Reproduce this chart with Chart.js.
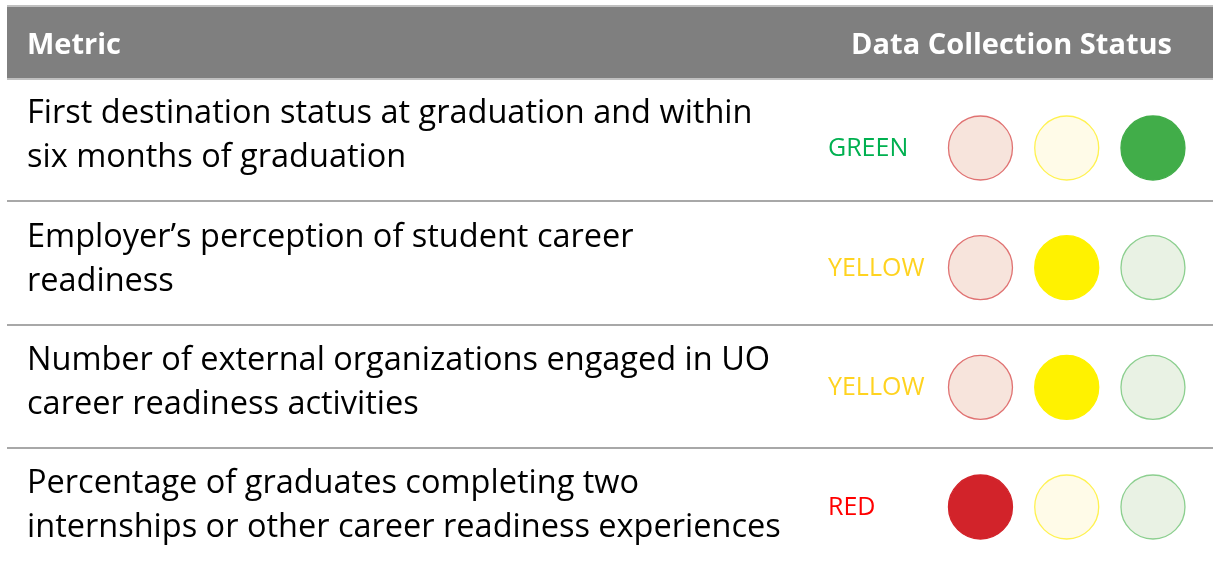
<!DOCTYPE html>
<html>
<head>
<meta charset="utf-8">
<script src="https://cdn.jsdelivr.net/npm/chart.js@4/dist/chart.umd.min.js"></script>
<style>
html,body{margin:0;padding:0;background:#fff;}
#wrap{width:1213px;height:568px;position:relative;}
</style>
</head>
<body>
<div id="wrap"><canvas id="c"></canvas></div>
<script>
// ---- data ----
const headerLeft = "Metric";
const headerRight = "Data Collection Status";
const metrics = [
  ["First destination status at graduation and within", "six months of graduation"],
  ["Employer\u2019s perception of student career", "readiness"],
  ["Number of external organizations engaged in UO", "career readiness activities"],
  ["Percentage of graduates completing two", "internships or other career readiness experiences"]
];
const statuses = ["GREEN", "YELLOW", "YELLOW", "RED"];
const lights = ["RED", "YELLOW", "GREEN"];

// ---- styles ----
const FONT = "'Open Sans', Lato, sans-serif";
const fullColor = {RED: "#d2232a", YELLOW: "#fff200", GREEN: "#41ad49"};
const faintFill = {RED: "#f7e4dc", YELLOW: "#fffbe8", GREEN: "#e9f2e4"};
const faintStroke = {RED: "#e07272", YELLOW: "#fff250", GREEN: "#8ccf8f"};
const labelColor = {RED: "#ff0000", YELLOW: "#ffd320", GREEN: "#00b050"};
const textTops = [114, 238, 361, 484];
const lineGap = 44;

const datasets = lights.map((light, li) => ({
  label: light,
  data: metrics.map((m, row) => ({x: li, y: row})),
  pointRadius: 32,
  pointHoverRadius: 32,
  pointBackgroundColor: statuses.map(s => s === light ? fullColor[light] : faintFill[light]),
  pointBorderColor: statuses.map(s => s === light ? fullColor[light] : faintStroke[light]),
  pointBorderWidth: 1.3
}));

const tablePlugin = {
  id: "table",
  beforeDatasetsDraw(chart) {
    const ctx = chart.ctx;
    const W = chart.width;
    const ys = chart.scales.y;
    ctx.save();
    // header band
    ctx.fillStyle = "#c0c0c0";
    ctx.fillRect(7, 5, W - 7, 75);
    ctx.fillStyle = "#7f7f7f";
    ctx.fillRect(7, 7, W - 7, 71);
    ctx.fillStyle = "#ffffff";
    ctx.font = "bold 29px " + FONT;
    ctx.textBaseline = "middle";
    ctx.textAlign = "left";
    ctx.fillText(headerLeft, 27, 46);
    ctx.textAlign = "right";
    ctx.fillText(headerRight, 1172, 46);
    // separators
    ctx.strokeStyle = "#a8a8a8";
    ctx.lineWidth = 2;
    [201, 325, 448].forEach(y => {
      ctx.beginPath(); ctx.moveTo(7, y); ctx.lineTo(W, y); ctx.stroke();
    });
    // metric text
    ctx.fillStyle = "#000000";
    ctx.font = "32.5px " + FONT;
    ctx.textAlign = "left";
    ctx.textBaseline = "middle";
    metrics.forEach((lines, i) => {
      lines.forEach((t, j) => ctx.fillText(t, 27, textTops[i] + j * lineGap));
    });
    // status labels
    ctx.font = "25px " + FONT;
    statuses.forEach((s, i) => {
      ctx.fillStyle = labelColor[s];
      ctx.fillText(s, 828, ys.getPixelForValue(i) + 1);
    });
    ctx.restore();
  }
};

function draw() {
  new Chart(document.getElementById("c"), {
    type: "scatter",
    data: {datasets},
    options: {
      responsive: true,
      maintainAspectRatio: false,
      animation: false,
      layout: {padding: 0, autoPadding: false},
      plugins: {legend: {display: false}, tooltip: {enabled: false}},
      events: [],
      scales: {
        x: {type: "linear", display: false, min: -11.368, max: 2.696},
        y: {type: "linear", display: false, reverse: true, min: -1.2367, max: 3.5097}
      }
    },
    plugins: [tablePlugin]
  });
}
if (document.fonts && document.fonts.load) {
  Promise.all([document.fonts.load("32px 'Open Sans'"), document.fonts.load("bold 29px 'Open Sans'")]).then(draw, draw);
} else { draw(); }
</script>
</body>
</html>
